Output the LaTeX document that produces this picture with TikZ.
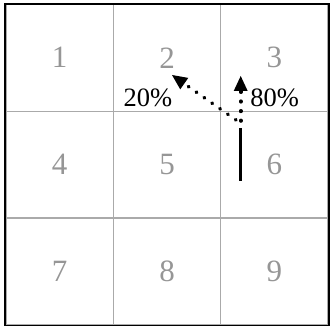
\documentclass[tikz,border=0pt]{standalone}
\usepackage{fontspec}
\setmainfont{Liberation Serif}
\usetikzlibrary{arrows.meta}
\definecolor{gridgray}{RGB}{170,170,170}
\definecolor{numgray}{RGB}{150,150,150}
\begin{document}
\begin{tikzpicture}[x=1pt,y=-1pt,
  cell/.style={draw=gridgray,line width=1.2pt,minimum width=107.33pt,minimum height=106.9pt,inner sep=0pt,
    text=numgray,font=\fontsize{31}{31}\selectfont},
  pct/.style={anchor=base,inner sep=0pt,font=\fontsize{26.5}{26.5}\selectfont},
  solidmove/.style={line width=3pt},
  dottedmove/.style={line width=3.6pt,line cap=round,dash pattern=on 0.6pt off 9pt,
    -{Triangle[length=15pt,width=14pt,line width=0pt]}}]
\useasboundingbox (0,0) rectangle (330,326);
\node[cell] (c1) at (59.67,57.75) {1};
\node[cell] (c2) at (167,57.75) {2};
\node[cell] (c3) at (274.33,57.75) {3};
\node[cell] (c4) at (59.67,164.65) {4};
\node[cell] (c5) at (167,164.65) {5};
\node[cell] (c6) at (274.33,164.65) {6};
\node[cell] (c7) at (59.67,271.55) {7};
\node[cell] (c8) at (167,271.55) {8};
\node[cell] (c9) at (274.33,271.55) {9};
\draw[line width=2pt] (c1.north west) rectangle (c9.south east);
\node[pct] (p20) at (148,106.7) {20\%};
\node[pct] (p80) at (274.6,106.7) {80\%};
\coordinate (s) at (240.7,181);
\coordinate (m) at (240.7,128);
\coordinate (m2) at (240.7,121);
\coordinate (m1) at (236,120);
\coordinate (t3) at (240.7,76);
\coordinate (t2) at (172,75);
\draw[solidmove] (s) -- (m);
\draw[dottedmove] (m2) -- (t3);
\draw[dottedmove] (m1) -- (t2);
\end{tikzpicture}
\end{document}
